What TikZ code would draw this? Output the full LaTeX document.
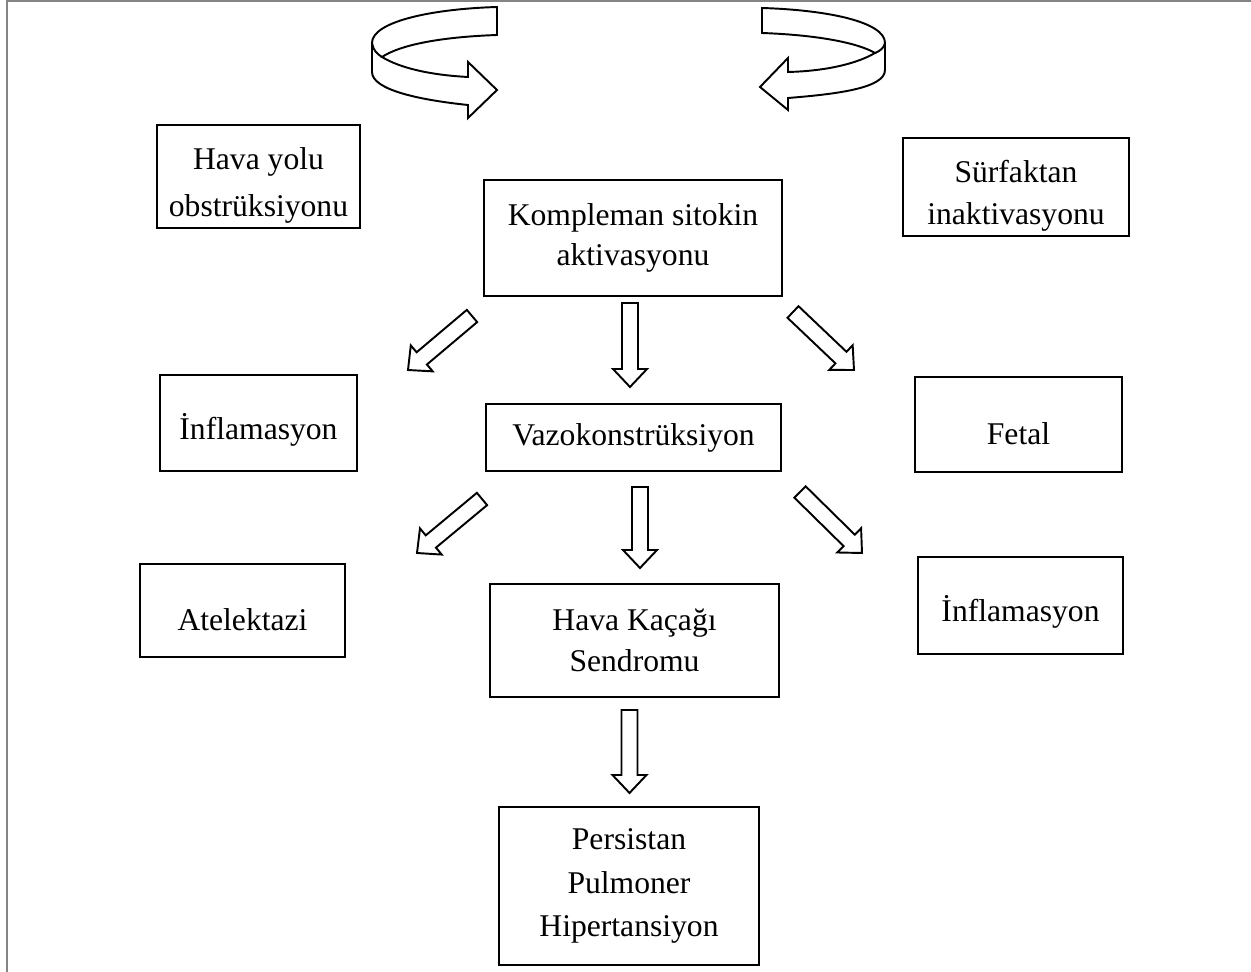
\documentclass[tikz,border=0pt]{standalone}
\usepackage{fontspec}
\setmainfont{Liberation Serif}
\usetikzlibrary{calc}
\tikzset{
    box/.style={draw,line width=1pt,align=center,inner sep=0pt,font=\fontsize{18}{23}\selectfont},
    hollow/.style={draw,fill=white,line width=1.1pt,line join=miter},
    frame/.style={draw=black!48,line width=1.4pt}
}
% strut that moves the text of a side box down a little
\newcommand{\toppad}{\rule{0pt}{22.5pt}}
% hollow block arrow: name, tail, tip
\newcommand{\hollowarrow}[3]{%
    \coordinate (#1h) at ($(#3)!0.36cm!(#2)$);
    \draw[hollow] ($(#2)!0.16cm!90:(#3)$) -- ($(#1h)!0.16cm!90:(#3)$) -- ($(#1h)!0.34cm!90:(#3)$)
        -- (#3) -- ($(#1h)!0.34cm!-90:(#3)$) -- ($(#1h)!0.16cm!-90:(#3)$) -- ($(#2)!0.16cm!-90:(#3)$) -- cycle;}

\begin{document}
\begin{tikzpicture}[x=0.02cm,y=-0.02cm]
    \useasboundingbox (0,0) rectangle (1251,972);
    \draw[frame] (7.2,972) -- (7.2,1.2) -- (1251,1.2);

    % curved arrows on top
    \draw[hollow] (497,7) -- (497,35) .. controls (440,37) and (400,45) .. (382,57)
        .. controls (400,68) and (430,75) .. (468,77) -- (468,62) -- (497,90) -- (468,118) -- (468,105)
        .. controls (420,100) and (372,90) .. (372,72) -- (372,43) .. controls (372,22) and (430,9) .. (497,7) -- cycle;
    \draw[hollow,fill=none] (372,43) .. controls (373,50) and (377,54) .. (382,57);
    \draw[hollow] (762,8) -- (762,33) .. controls (818,35) and (858,43) .. (875,53)
        .. controls (858,63) and (828,71) .. (788,72) -- (788,58) -- (760,87) -- (788,110) -- (788,98)
        .. controls (838,94) and (885,88) .. (885,70) -- (885,43) .. controls (885,22) and (828,10) .. (762,8) -- cycle;
    \draw[hollow,fill=none] (885,43) .. controls (884,48) and (880,51) .. (875,53);

    % boxes
    \node[box,minimum width=4.06cm,minimum height=2.06cm] (hava) at (258.5,176.5) {\toppad Hava yolu\\[4pt]obstrüksiyonu};
    \node[box,minimum width=5.96cm,minimum height=2.32cm] (komp) at (633,238) {Kompleman sitokin\\aktivasyonu};
    \node[box,minimum width=4.52cm,minimum height=1.96cm] (surf) at (1016,187) {\toppad Sürfaktan\\[1pt]inaktivasyonu};
    \node[box,minimum width=3.94cm,minimum height=1.92cm] (infl) at (258.5,423) {\toppad İnflamasyon};
    \node[box,minimum width=5.9cm,minimum height=1.34cm] (vazo) at (633.5,437.5) {Vazokonstrüksiyon};
    \node[box,minimum width=4.14cm,minimum height=1.9cm] (fetal) at (1018.5,424.5) {\toppad Fetal};
    \node[box,minimum width=4.1cm,minimum height=1.86cm] (atel) at (242.5,610.5) {\toppad Atelektazi};
    \node[box,minimum width=5.78cm,minimum height=2.26cm] (kacak) at (634.5,640.5) {Hava Kaçağı\\Sendromu};
    \node[box,minimum width=4.1cm,minimum height=1.94cm] (inflb) at (1020.5,605.5) {\toppad İnflamasyon};
    \node[box,minimum width=5.2cm,minimum height=3.16cm] (ppht) at (629,886) {Persistan\\[2pt]Pulmoner\\[2pt]Hipertansiyon};

    % block arrows
    \coordinate (a1s) at (472,316); \coordinate (a1e) at (408,370);
    \coordinate (a2s) at (630,303); \coordinate (a2e) at (630,387);
    \coordinate (a3s) at (793,312); \coordinate (a3e) at (854,370);
    \coordinate (b1s) at (482,499); \coordinate (b1e) at (417,553);
    \coordinate (b2s) at (640,487); \coordinate (b2e) at (640,568);
    \coordinate (b3s) at (800,492); \coordinate (b3e) at (862,553);
    \coordinate (c1s) at (629.5,710); \coordinate (c1e) at (629.5,793);
    \hollowarrow{a1}{a1s}{a1e} \hollowarrow{a2}{a2s}{a2e} \hollowarrow{a3}{a3s}{a3e}
    \hollowarrow{b1}{b1s}{b1e} \hollowarrow{b2}{b2s}{b2e} \hollowarrow{b3}{b3s}{b3e}
    \hollowarrow{c1}{c1s}{c1e}
\end{tikzpicture}
\end{document}
